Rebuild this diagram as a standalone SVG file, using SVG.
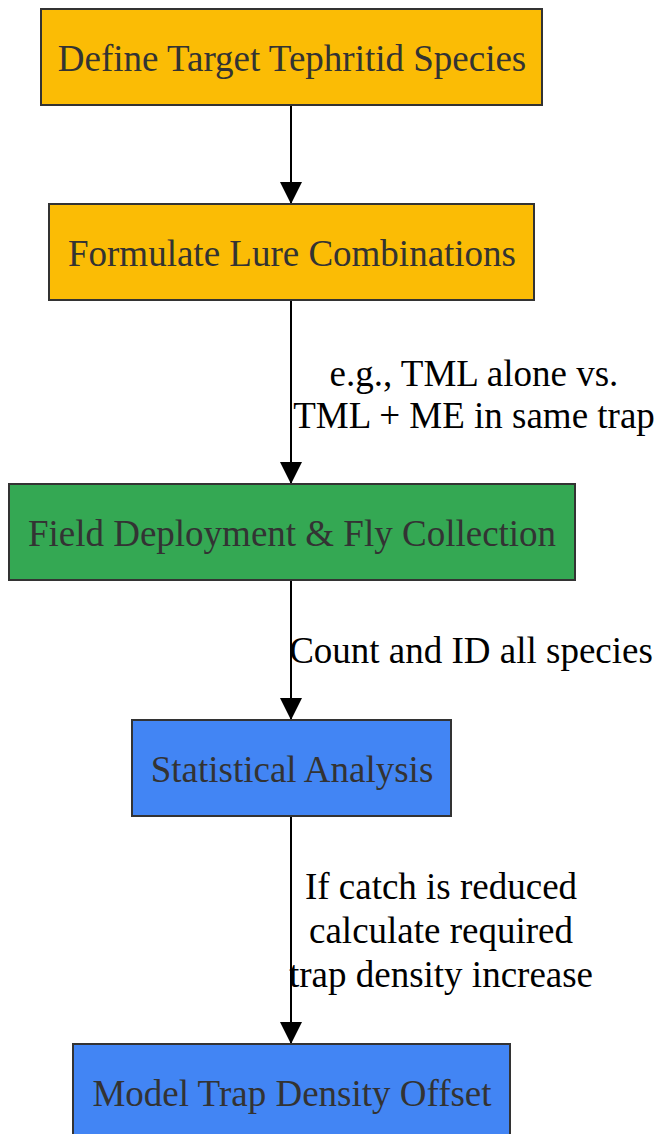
<svg xmlns="http://www.w3.org/2000/svg" width="662" height="1134" viewBox="0 0 662 1134">
<style>
.n rect{stroke:#333;stroke-width:2}
.n text{font-family:"Liberation Serif",serif;font-size:37px;fill:#333;text-anchor:middle}
.e line{stroke:#000;stroke-width:2}
.l{font-family:"Liberation Serif",serif;font-size:37px;fill:#000;text-anchor:middle}
.y{fill:#FBBC05}.g{fill:#34A853}.b{fill:#4285F4}
</style>
<defs>
<marker id="arr" markerUnits="userSpaceOnUse" markerWidth="22" markerHeight="32" refX="22" refY="11" orient="auto" viewBox="0 0 22 22">
<path d="M0,0 L22,11 L0,22 Z" fill="#000"/>
</marker>
</defs>
<rect width="662" height="1134" fill="#fff"/>
<g id="connectors" class="e">
<line x1="291" y1="105" x2="291" y2="204" marker-end="url(#arr)"/>
<line x1="291" y1="300" x2="291" y2="484" marker-end="url(#arr)"/>
<line x1="291" y1="580" x2="291" y2="720" marker-end="url(#arr)"/>
<line x1="291" y1="816" x2="291" y2="1044" marker-end="url(#arr)"/>
<text class="l" x="474" y="386">e.g., TML alone vs.</text>
<text class="l" x="474" y="428">TML + ME in same trap</text>
<text class="l" x="471" y="663">Count and ID all species</text>
<text class="l" x="441" y="899">If catch is reduced</text>
<text class="l" x="441" y="943">calculate required</text>
<text class="l" x="441" y="987">trap density increase</text>
</g>
<g id="n1" class="n"><rect class="y" x="41" y="9" width="501" height="96"/><text x="292" y="71">Define Target Tephritid Species</text></g>
<g id="n2" class="n"><rect class="y" x="49" y="204" width="485" height="96"/><text x="292" y="266">Formulate Lure Combinations</text></g>
<g id="n3" class="n"><rect class="g" x="9" y="484" width="566" height="96"/><text x="292" y="546">Field Deployment &amp; Fly Collection</text></g>
<g id="n4" class="n"><rect class="b" x="132" y="720" width="319" height="96"/><text x="292" y="782">Statistical Analysis</text></g>
<g id="n5" class="n"><rect class="b" x="73" y="1044" width="437" height="96"/><text x="292" y="1106">Model Trap Density Offset</text></g>
</svg>
